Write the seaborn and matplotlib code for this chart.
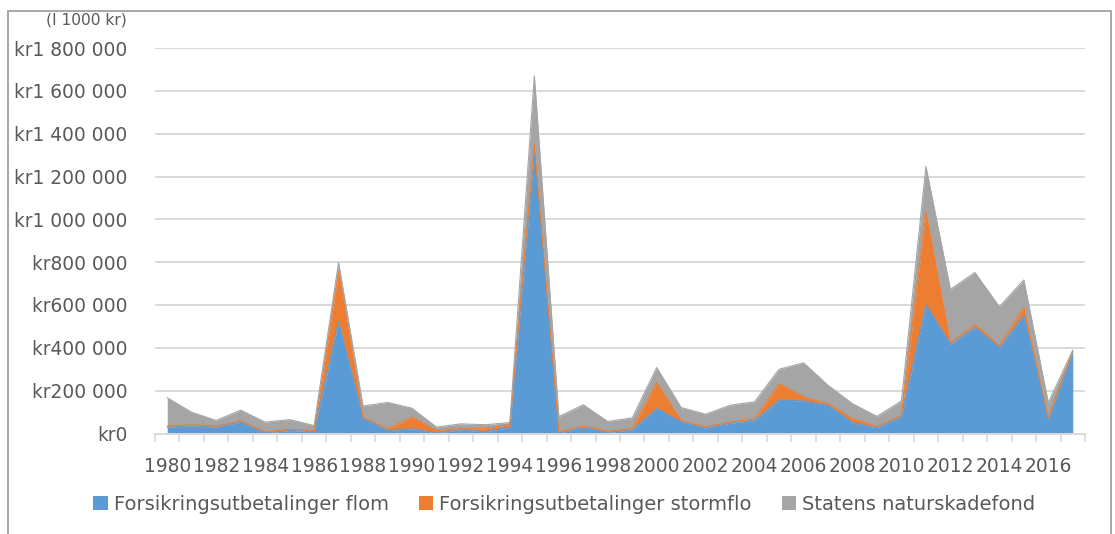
import numpy as np
import pandas as pd
import matplotlib
matplotlib.use("Agg")
import matplotlib.pyplot as plt
from matplotlib.patches import Rectangle
from matplotlib.ticker import FuncFormatter, FixedLocator
import seaborn as sns

# Annual payouts (in 1000 kr)
years = list(range(1980, 2018))
flom = [30000, 36000, 30000, 53000, 3000, 14000, 9000, 522000, 71000, 14000,
        22000, 3000, 17000, 8000, 29000, 1325000, 2000, 28000, 5000, 17000,
        117000, 54000, 26000, 48000, 61000, 156000, 152000, 131000, 50000, 27000,
        80000, 600000, 417000, 495000, 402000, 550000, 69000, 385000]
stormflo = [4000, 5000, 4000, 6000, 5000, 6000, 3000, 234000, 4000, 8000,
            54000, 11000, 6000, 14000, 13000, 23000, 6000, 8000, 5000, 6000,
            121000, 5000, 5000, 6000, 7000, 77000, 18000, 8000, 19000, 6000,
            4000, 436000, 6000, 14000, 7000, 39000, 4000, 1000]
naturskade = [133000, 58000, 27000, 50000, 45000, 45000, 25000, 42000, 53000, 123000,
              42000, 16000, 22000, 19000, 9000, 322000, 71000, 98000, 46000, 50000,
              70000, 62000, 59000, 78000, 80000, 67000, 160000, 86000, 70000, 47000,
              68000, 211000, 250000, 243000, 183000, 128000, 71000, 3000]

series_names = ["Forsikringsutbetalinger flom",
                "Forsikringsutbetalinger stormflo",
                "Statens naturskadefond"]
colors = ["#5B9BD5", "#ED7D31", "#A5A5A5"]
y_ticks = list(range(0, 1800001, 200000))

sns.set_theme(style="white")
plt.rcParams["font.family"] = ["DejaVu Sans"]
text_color = "#595959"
grid_color = "#D9D9D9"
fs = 13.4

df = pd.DataFrame({"year": years, series_names[0]: flom,
                   series_names[1]: stormflo, series_names[2]: naturskade})
df["pos"] = np.arange(len(df))

fig = plt.figure(figsize=(11.15, 5.34), dpi=100)
ax = fig.add_axes([155 / 1115, 1 - 433.5 / 534, 930 / 1115, 385.5 / 534])

# Stacked areas, layer by layer
lower = np.zeros(len(df))
handles = []
for name, col in zip(series_names, colors):
    upper = lower + df[name].to_numpy()
    h = ax.fill_between(df["pos"], lower, upper, color=col, lw=0, zorder=3, label=name)
    handles.append(h)
    df["_top"] = upper
    sns.lineplot(data=df, x="pos", y="_top", ax=ax, color=col, lw=0.8, zorder=4,
                 legend=False)
    lower = upper

ax.set_xlim(-0.5, len(years) - 0.5)
ax.set_ylim(0, 1800000)
ax.set_xlabel("")
ax.set_ylabel("")

# Horizontal gridlines
ax.yaxis.set_major_locator(FixedLocator(y_ticks))
ax.yaxis.grid(True, color=grid_color, lw=1.4, zorder=0)
ax.xaxis.grid(False)
ax.yaxis.set_major_formatter(FuncFormatter(lambda v, p: "kr" + f"{int(v):,}".replace(",", " ")))
ax.tick_params(axis="y", length=0, pad=20, labelsize=fs, labelcolor=text_color)

# Category axis: labels every second year, tick marks between categories
ax.set_xticks(df["pos"][::2])
ax.set_xticklabels([str(y) for y in years[::2]])
ax.set_xticks(np.arange(-0.5, len(years)), minor=True)
ax.tick_params(axis="x", which="major", length=0, pad=17, labelsize=fs,
               labelcolor=text_color)
ax.tick_params(axis="x", which="minor", length=5.5, width=1.2, color=grid_color,
               bottom=True, direction="out")

for s in ["top", "right", "left"]:
    ax.spines[s].set_visible(False)
ax.spines["bottom"].set_color(grid_color)
ax.spines["bottom"].set_linewidth(1.4)
ax.spines["bottom"].set_zorder(5)

fig.text(127 / 1115, 1 - 20 / 534, "(I 1000 kr)", ha="right", va="center",
         fontsize=11.2, color=text_color)

fig.legend(handles, series_names, loc="center", bbox_to_anchor=(0.506, 1 - 504 / 534),
           ncol=3, frameon=False, fontsize=14, labelcolor=text_color,
           handlelength=0.74, handleheight=0.74, handletextpad=0.3,
           columnspacing=1.55, borderpad=0)

# Chart frame
fig.patches.append(Rectangle((8 / 1115, -0.2), 1103 / 1115, 1.2 - 11 / 534,
                             transform=fig.transFigure, fill=False,
                             edgecolor="#A0A0A0", lw=1.3))

fig.savefig("out.png", dpi=100, facecolor="white")
